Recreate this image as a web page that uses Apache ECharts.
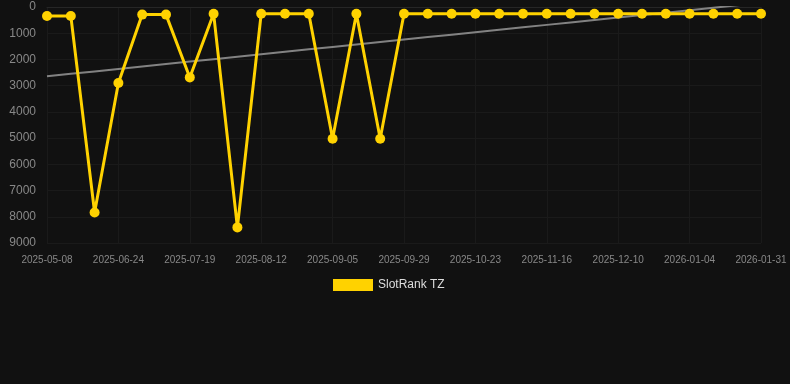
<!DOCTYPE html>
<html><head><meta charset="utf-8">
<script src="https://cdn.jsdelivr.net/npm/echarts@6/dist/echarts.min.js"></script>
<style>html,body{margin:0;padding:0;background:#111111;}#c{width:790px;height:384px;}</style>
</head><body><div id="c"></div>
<script>
const categories = ["2025-05-08","2025-05-24","2025-06-09","2025-06-24","2025-07-02","2025-07-10","2025-07-19","2025-07-27","2025-08-04","2025-08-12","2025-08-20","2025-08-28","2025-09-05","2025-09-13","2025-09-21","2025-09-29","2025-10-07","2025-10-15","2025-10-23","2025-10-31","2025-11-08","2025-11-16","2025-11-24","2025-12-02","2025-12-10","2025-12-18","2025-12-26","2026-01-04","2026-01-13","2026-01-22","2026-01-31"];
const rankValues = [340,340,7835,2900,290,290,2685,255,8405,255,255,255,5027,255,5027,255,255,255,255,255,255,255,255,255,255,255,255,255,255,255,255];
const seriesName = "SlotRank TZ";

// linear regression trend
const n = rankValues.length;
let sx=0, sy=0, sxy=0, sxx=0;
rankValues.forEach((v,i)=>{sx+=i;sy+=v;sxy+=i*v;sxx+=i*i;});
const slope = (n*sxy - sx*sy)/(n*sxx - sx*sx);
const icpt = (sy - slope*sx)/n;
const trend = rankValues.map((v,i)=>+(icpt + slope*i).toFixed(1));

const chart = echarts.init(document.getElementById('c'), null, {renderer:'canvas'});
chart.setOption({
  backgroundColor:'#111111',
  animation:false,
  grid:{left:47,right:29,top:7,bottom:141,containLabel:false},
  legend:{
    data:[{name:seriesName}],
    top:274, left:328,
    itemWidth:40, itemHeight:12, itemGap:10, icon:'rect',
    textStyle:{color:'#dddddd', fontSize:12, fontFamily:'Liberation Sans, Arial, sans-serif'}
  },
  xAxis:{
    type:'category', data:categories, boundaryGap:false,
    axisLine:{show:true, lineStyle:{color:'#262626'}},
    axisTick:{show:false},
    axisLabel:{interval:2, color:'#888888', fontSize:10, margin:12, fontFamily:'Liberation Sans, Arial, sans-serif'},
    splitLine:{show:true, interval:2, lineStyle:{color:'#1a1a1a'}}
  },
  yAxis:{
    type:'value', inverse:true, min:0, max:9000, interval:1000,
    axisLine:{show:false}, axisTick:{show:false},
    axisLabel:{color:'#888888', fontSize:12, margin:11, formatter:(v)=>String(v), fontFamily:'Liberation Sans, Arial, sans-serif'},
    splitLine:{show:true, lineStyle:{color:'#1a1a1a'}}
  },
  series:[
    {name:seriesName, type:'line', data:rankValues, color:'#FFD200',
     symbol:'circle', symbolSize:10, lineStyle:{width:3, color:'#FFD200'},
     itemStyle:{color:'#FFD200'}, z:3},
    {name:'trend', type:'line', data:trend, symbol:'none', silent:true,
     lineStyle:{width:2, color:'rgba(150,150,150,0.85)'}, z:2}
  ]
});
</script></body></html>
